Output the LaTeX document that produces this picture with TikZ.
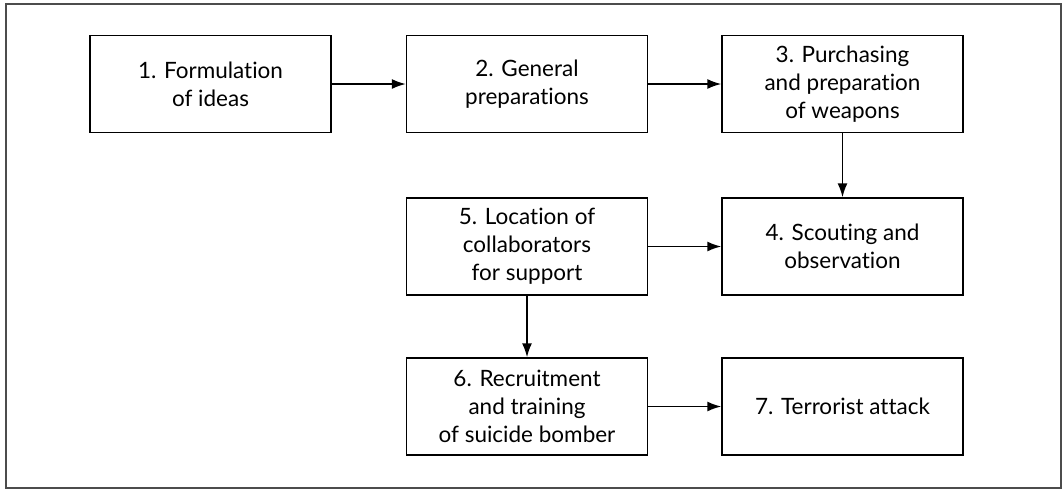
\documentclass[tikz,border=0pt]{standalone}
\usepackage{fontspec}
\setmainfont{Lato}[RawFeature={-liga}]
\usetikzlibrary{arrows.meta}
\begin{document}
\begin{tikzpicture}[x=1pt,y=-1pt,
  stepbox/.style={draw=black,line width=1.3pt,minimum width=241pt,minimum height=97pt,inner sep=0pt,align=center,font=\fontsize{22.5}{28}\selectfont},
  conn/.style={line width=1.8pt,-{Latex[length=14pt,width=10pt]}}]
\useasboundingbox (0,0) rectangle (1064,490);
\node[draw=black!70,line width=1.6pt,minimum width=1055pt,minimum height=484pt,inner sep=0pt] (frame) at (533.5,246) {};
\node[stepbox] (b1) at (210.5,84) {1. Formulation\\of ideas};
\node[stepbox] (b2) at (527,84) {2. General\\preparations};
\node[stepbox] (b3) at (842.5,84) {3. Purchasing\\and preparation\\of weapons};
\node[stepbox] (b4) at (842.5,246.5) {4. Scouting and\\observation};
\node[stepbox] (b5) at (527,246.5) {5. Location of\\collaborators\\for support};
\node[stepbox] (b6) at (527,406.5) {6. Recruitment\\and training\\of suicide bomber};
\node[stepbox] (b7) at (842.5,406.5) {7. Terrorist attack};
\draw[conn] (b1) -- (b2);
\draw[conn] (b2) -- (b3);
\draw[conn] (b3) -- (b4);
\draw[conn] (b5) -- (b4);
\draw[conn] (b5) -- (b6);
\draw[conn] (b6) -- (b7);
\end{tikzpicture}
\end{document}
